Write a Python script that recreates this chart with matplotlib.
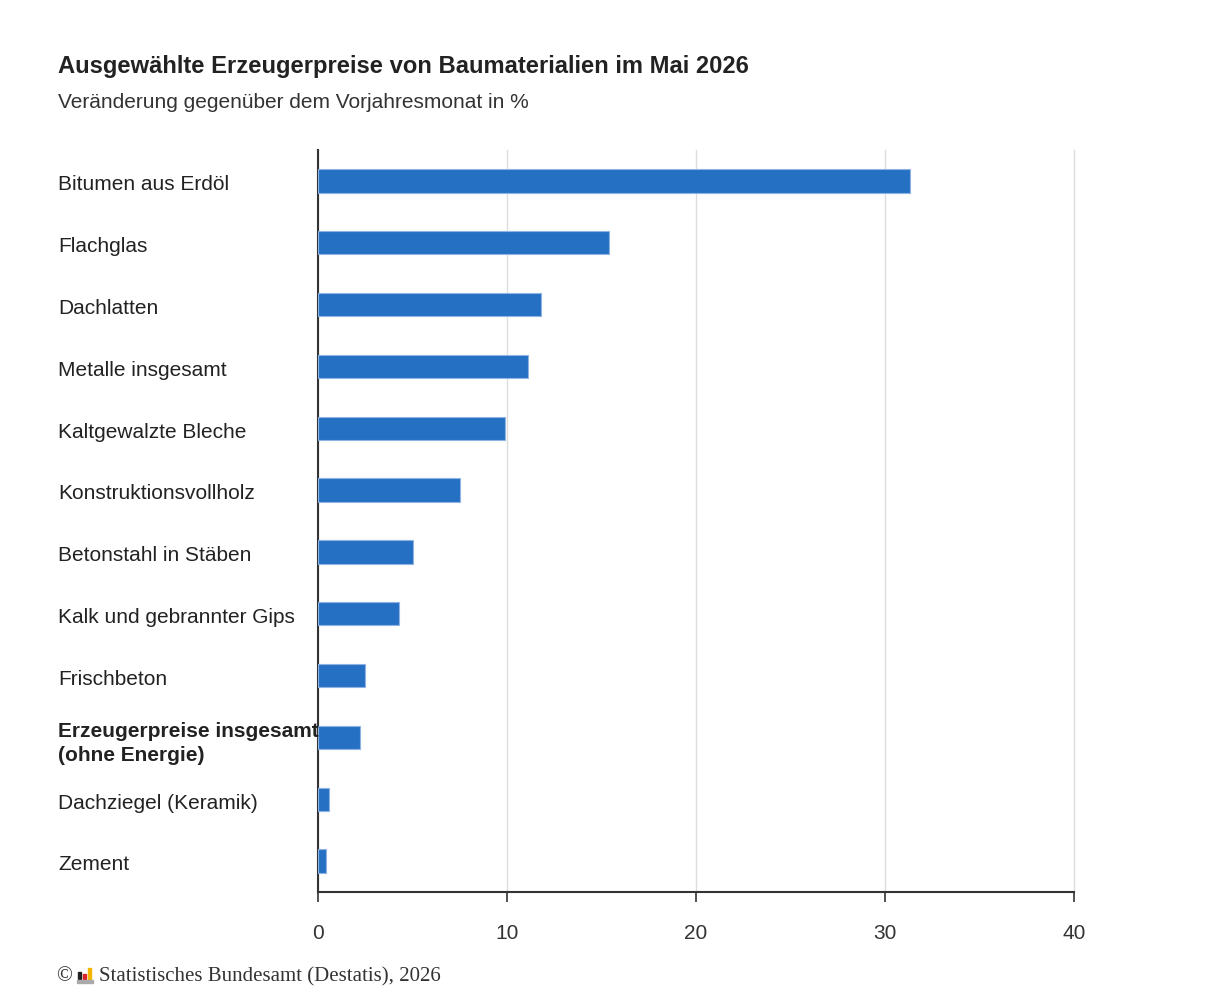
import matplotlib.pyplot as plt
from matplotlib.patches import Rectangle
from matplotlib.transforms import blended_transform_factory

# Data (Veränderung gegenüber Vorjahresmonat in %)
categories = [
    "Bitumen aus Erdöl",
    "Flachglas",
    "Dachlatten",
    "Metalle insgesamt",
    "Kaltgewalzte Bleche",
    "Konstruktionsvollholz",
    "Betonstahl in Stäben",
    "Kalk und gebrannter Gips",
    "Frischbeton",
    "Erzeugerpreise insgesamt\n(ohne Energie)",
    "Dachziegel (Keramik)",
    "Zement",
]
values = [31.3, 15.4, 11.8, 11.1, 9.9, 7.5, 5.0, 4.3, 2.5, 2.2, 0.6, 0.4]
bold_labels = ["Erzeugerpreise insgesamt\n(ohne Energie)"]
x_ticks = [0, 10, 20, 30, 40]

plt.rcParams['font.family'] = ['Liberation Sans', 'DejaVu Sans']

fig = plt.figure(figsize=(12.15, 10), dpi=100)
ax = fig.add_axes([318 / 1215, 0.108, (1074 - 318) / 1215, 0.742])

ypos = list(range(len(categories)))
ax.barh(ypos, values, height=0.38, color="#2670C4", edgecolor="#8fb4e3",
        linewidth=0.8, zorder=3)

ax.set_xlim(0, 40)
ax.set_ylim(len(categories) - 0.5, -0.5)
ax.set_xticks(x_ticks)
ax.set_xticklabels([str(t) for t in x_ticks], fontsize=15, color="#333333")
ax.tick_params(axis="x", length=7, width=1.2, color="#333333", pad=16)
ax.set_yticks([])
ax.grid(axis="x", color="#dddddd", linewidth=1, zorder=0)
for gl in ax.get_xgridlines():
    gl.set_clip_on(False)

for side in ["top", "right"]:
    ax.spines[side].set_visible(False)
ax.spines["left"].set_color("#333333")
ax.spines["left"].set_linewidth(1.5)
ax.spines["bottom"].set_color("#333333")
ax.spines["bottom"].set_linewidth(1.5)

# category labels, left aligned at figure margin
trans = blended_transform_factory(fig.transFigure, ax.transData)
for i, cat in enumerate(categories):
    weight = "bold" if cat in bold_labels else "normal"
    ax.text(58 / 1215, i + 0.03, cat, transform=trans, ha="left", va="center_baseline",
            fontsize=15, color="#222222", fontweight=weight, linespacing=1.3)

fig.text(58 / 1215, 1 - 67 / 1000, "Ausgewählte Erzeugerpreise von Baumaterialien im Mai 2026",
         fontsize=17.1, fontweight="bold", color="#222222", va="center")
fig.text(58 / 1215, 1 - 103 / 1000, "Veränderung gegenüber dem Vorjahresmonat in %",
         fontsize=15, color="#333333", va="center")

# footer with small logo
fig.text(56 / 1215, 1 - 977 / 1000, "©", fontsize=15, family="Liberation Serif",
         color="#333333", va="center")
logo = [(78, 972, 3, 7, "#222222"), (83, 974, 3, 5, "#d8232a"), (88, 968, 3, 11, "#f2b600")]
for lx, ly, w, h, c in logo:
    fig.patches.append(Rectangle((lx / 1215, 1 - (ly + h) / 1000), w / 1215, h / 1000,
                                 transform=fig.transFigure, color=c))
fig.patches.append(Rectangle((77 / 1215, 1 - 983 / 1000), 16 / 1215, 3 / 1000,
                             transform=fig.transFigure, color="#aaaaaa"))
fig.text(99 / 1215, 1 - 977 / 1000, "Statistisches Bundesamt (Destatis), 2026",
         fontsize=15, family="Liberation Serif", color="#333333", va="center")

fig.savefig("out.png", dpi=100, facecolor="white")
